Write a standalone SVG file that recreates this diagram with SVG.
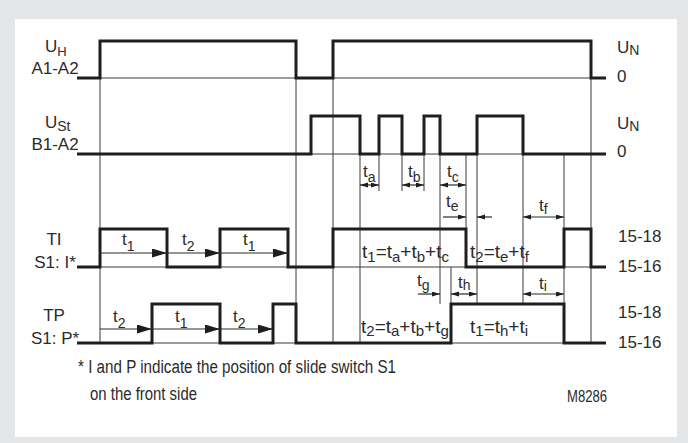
<svg xmlns="http://www.w3.org/2000/svg" width="688" height="443" viewBox="0 0 688 443">
<defs>
<style>
text{font-family:"Liberation Sans",Arial,sans-serif;fill:#2b2b2b;font-size:17px}
.thick{fill:none;stroke:#1e1e1e;stroke-width:3;stroke-linejoin:miter;stroke-linecap:butt}
.thin{fill:none;stroke:#3a3a3a;stroke-width:1}
.arr{fill:none;stroke:#2a2a2a;stroke-width:1.2}
.sub{font-size:14px}
.f{font-size:19px}
.fs{font-size:15px}
</style>
<marker id="big" markerUnits="userSpaceOnUse" markerWidth="16" markerHeight="10" refX="15" refY="4.5" orient="auto"><path d="M0,0 L15,4.5 L0,9 Z" fill="#1e1e1e"/></marker>
<marker id="sm" markerUnits="userSpaceOnUse" markerWidth="9" markerHeight="6" refX="8" refY="2.5" orient="auto-start-reverse"><path d="M0,0 L8,2.5 L0,5 Z" fill="#1e1e1e"/></marker>
</defs>
<rect x="0" y="0" width="688" height="443" fill="#e5e6e8"/>
<rect x="15" y="19" width="662" height="418" fill="#ffffff"/>

<g id="grid">
<path class="thin" d="M100,78 H591 M311,154 H606 M100,267 H591 M100,343 H591"/>
<path class="thin" d="M100,41 V343 M296,41 V343 M333,41 V343 M360,116 V343 M379,154 V191 M402,154 V191 M424,154 V191 M440,116 V304 M466,154 V267 M477,116 V304 M451,267 V343 M523,116 V304 M564,154 V343 M591,41 V343"/>
</g>

<g id="signal-UH"><path class="thick" d="M77,78 H100 V41 H296 V78 H333 V41 H591 V78 H606"/>
<text x="45" y="52">U<tspan style="font-size:13px" dy="4">H</tspan></text>
<text x="55" y="74" text-anchor="middle">A1-A2</text>
<text x="617" y="53">U<tspan class="sub" dy="2">N</tspan></text>
<text x="617" y="82">0</text>
</g>

<g id="signal-USt"><path class="thick" d="M77,154 H311 V116 H360 V154 H379 V116 H402 V154 H424 V116 H440 V154 H477 V116 H523 V154 H606"/>
<text x="45" y="128">U<tspan class="sub" dy="3">St</tspan></text>
<text x="55" y="150" text-anchor="middle">B1-A2</text>
<text x="617" y="129">U<tspan class="sub" dy="2">N</tspan></text>
<text x="617" y="157">0</text>
</g>

<g id="signal-TI"><path class="thick" d="M77,267 H100 V229 H167 V267 H220 V229 H288 V267 H333 V229 H466 V267 H564 V229 H591 V267 H606"/>
<text x="54" y="245" text-anchor="middle">TI</text>
<text x="55" y="268" text-anchor="middle">S1: I*</text>
<text x="618" y="242">15-18</text>
<text x="618" y="272">15-16</text>
</g>

<g id="signal-TP"><path class="thick" d="M77,343 H152 V304 H220 V343 H273 V304 H296 V343 H451 V304 H564 V343 H606"/>
<text x="54" y="321" text-anchor="middle">TP</text>
<text x="55" y="344" text-anchor="middle">S1: P*</text>
<text x="618" y="318">15-18</text>
<text x="618" y="348">15-16</text>
</g>

<g id="connectors">
<path class="arr" marker-end="url(#big)" d="M100,253 H167"/>
<path class="arr" marker-end="url(#big)" d="M167,253 H220"/>
<path class="arr" marker-end="url(#big)" d="M220,253 H288"/>
<path class="arr" marker-end="url(#big)" d="M100,329 H152"/>
<path class="arr" marker-end="url(#big)" d="M152,329 H220"/>
<path class="arr" marker-end="url(#big)" d="M220,329 H273"/>
<path class="arr" marker-start="url(#sm)" marker-end="url(#sm)" d="M360,185 H379"/>
<path class="arr" marker-start="url(#sm)" marker-end="url(#sm)" d="M402,185 H424"/>
<path class="arr" marker-start="url(#sm)" marker-end="url(#sm)" d="M440,185 H466"/>
<path class="arr" marker-end="url(#sm)" d="M443,217 H466"/>
<path class="arr" marker-end="url(#sm)" d="M492,217 H477"/>
<path class="arr" marker-start="url(#sm)" marker-end="url(#sm)" d="M523,217 H564"/>
<path class="arr" marker-end="url(#sm)" d="M418,294 H440"/>
<path class="arr" marker-start="url(#sm)" marker-end="url(#sm)" d="M451,294 H477"/>
<path class="arr" marker-start="url(#sm)" marker-end="url(#sm)" d="M523,294 H564"/>
</g>

<g id="labels">
<text x="122" y="245">t<tspan class="sub" dy="6">1</tspan></text>
<text x="182" y="245">t<tspan class="sub" dy="6">2</tspan></text>
<text x="243" y="245">t<tspan class="sub" dy="6">1</tspan></text>
<text x="113" y="322">t<tspan class="sub" dy="6">2</tspan></text>
<text x="175" y="322">t<tspan class="sub" dy="6">1</tspan></text>
<text x="233" y="322">t<tspan class="sub" dy="6">2</tspan></text>
<text x="363" y="177">t<tspan class="sub" dy="5">a</tspan></text>
<text x="408" y="177">t<tspan class="sub" dy="5">b</tspan></text>
<text x="447" y="177">t<tspan class="sub" dy="5">c</tspan></text>
<text x="446" y="207">t<tspan class="sub" dy="4">e</tspan></text>
<text x="539" y="211">t<tspan class="sub" dy="3">f</tspan></text>
<text x="417" y="286">t<tspan class="sub" dy="4">g</tspan></text>
<text x="458" y="288">t<tspan class="sub" dy="2">h</tspan></text>
<text x="539" y="289">t<tspan class="sub" dy="2">i</tspan></text>
<text class="f" x="362" y="258">t<tspan class="fs" dy="4">1</tspan><tspan dy="-4">=t</tspan><tspan class="fs" dy="4">a</tspan><tspan dy="-4">+t</tspan><tspan class="fs" dy="4">b</tspan><tspan dy="-4">+t</tspan><tspan class="fs" dy="4">c</tspan></text>
<text class="f" x="470" y="258">t<tspan class="fs" dy="4">2</tspan><tspan dy="-4">=t</tspan><tspan class="fs" dy="4">e</tspan><tspan dy="-4">+t</tspan><tspan class="fs" dy="4">f</tspan></text>
<text class="f" x="361" y="333">t<tspan class="fs" dy="3">2</tspan><tspan dy="-3">=t</tspan><tspan class="fs" dy="3">a</tspan><tspan dy="-3">+t</tspan><tspan class="fs" dy="3">b</tspan><tspan dy="-3">+t</tspan><tspan class="fs" dy="3">g</tspan></text>
<text class="f" x="470" y="333">t<tspan class="fs" dy="3">1</tspan><tspan dy="-3">=t</tspan><tspan class="fs" dy="3">h</tspan><tspan dy="-3">+t</tspan><tspan class="fs" dy="3">i</tspan></text>
</g>

<g id="footnote">
<text x="78" y="373" textLength="318" lengthAdjust="spacingAndGlyphs" style="font-size:18px">* I and P indicate the position of slide switch S1</text>
<text x="90" y="400" textLength="107" lengthAdjust="spacingAndGlyphs" style="font-size:18px">on the front side</text>
<text x="567" y="402" textLength="40" lengthAdjust="spacingAndGlyphs" style="font-size:16px">M8286</text>
</g>
</svg>
